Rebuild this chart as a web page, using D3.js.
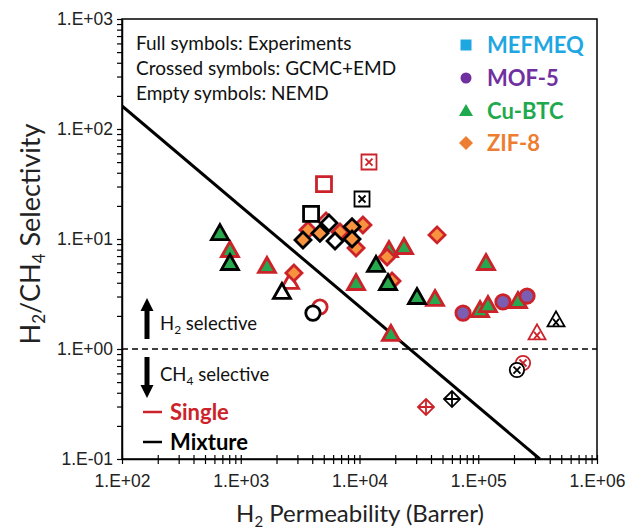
<!DOCTYPE html>
<html>
<head>
<meta charset="utf-8">
<script src="https://cdn.jsdelivr.net/npm/d3@7"></script>
<style>
  body { margin: 0; background: #fff; }
  svg { font-family: Lato, "Open Sans", sans-serif; }
</style>
</head>
<body>
<div id="chart"></div>
<script>
// axis ticks and labels
const xMajor = [1e2, 1e3, 1e4, 1e5, 1e6];
const xTickLabels = ["1.E+02", "1.E+03", "1.E+04", "1.E+05", "1.E+06"];
const yMajor = [1e-1, 1e0, 1e1, 1e2, 1e3];
const yTickLabels = ["1.E-01", "1.E+00", "1.E+01", "1.E+02", "1.E+03"];

// [H2 permeability (Barrer), H2/CH4 selectivity]
// full symbols: experiments
const cuBtcSingleExp = [[811, 7.94], [1663, 5.69], [9350, 3.98], [17700, 7.94], [23700, 8.46], [43250, 2.85],
  [18400, 1.37], [116200, 6.05], [103500, 2.26], [120700, 2.51], [216000, 2.73]];
const cuBtcMixtureExp = [[668, 11.3], [811, 6.05], [13770, 5.81], [17380, 3.98], [30480, 2.97]];
const mof5SingleExp = [[74500, 2.12], [161500, 2.68], [257600, 3.03]];
const zif8SingleExp = [[2805, 4.91], [3683, 12.1], [6855, 11.6], [10690, 13.4], [9350, 8.28], [17060, 6.86],
  [18790, 4.15], [44980, 10.9]];
const zif8MixtureExp = [[3343, 9.79], [4645, 11.3], [8650, 12.9], [8650, 10.0]];
// crossed symbols: GCMC+EMD
const mefmeqSingleEmd = [[12020, 50.1]];
const mefmeqMixtureEmd = [[10500, 23.1]];
const cuBtcSingleEmd = [[312600, 1.40]];
const cuBtcMixtureEmd = [[451800, 1.84]];
const mof5SingleEmd = [[238000, 0.746]];
const mof5MixtureEmd = [[211800, 0.644]];
const zif8SingleEmd = [[36300, 0.297]];
const zif8MixtureEmd = [[60100, 0.351]];
// empty symbols: NEMD
const mefmeqSingleNemd = [[5023, 31.6]];
const mefmeqMixtureNemd = [[3909, 16.9]];
const cuBtcSingleNemd = [[2600, 4.07]];
const cuBtcMixtureNemd = [[2223, 3.30]];
const mof5SingleNemd = [[4645, 2.41]];
const mof5MixtureNemd = [[4055, 2.12]];
const zif8SingleNemd = [[5225, 14.6]];
const zif8MixtureNemd = [[5535, 14.0], [6225, 9.59]];

// upper bound line
const boundLine = [[100, 162], [330000, 0.1]];

const materials = ["MEFMEQ", "MOF-5", "Cu-BTC", "ZIF-8"];

(() => {
  const width = 631, height = 530;
  const svg = d3.select("#chart").append("svg")
    .attr("width", width).attr("height", height);

  const x = d3.scaleLog().domain([1e2, 1e6]).range([122, 597]);
  const y = d3.scaleLog().domain([1e-1, 1e3]).range([459, 19]);

  const fillColor = {"MEFMEQ": "#1ea8e0", "MOF-5": "#7b5db2", "Cu-BTC": "#27a84f", "ZIF-8": "#f7933f"};
  const textColor = {"MEFMEQ": "#1fa7e1", "MOF-5": "#7030a0", "Cu-BTC": "#1ea94c", "ZIF-8": "#ed7d31"};
  const shape = {"MEFMEQ": "square", "MOF-5": "circle", "Cu-BTC": "triangle", "ZIF-8": "diamond"};
  const red = "#cc2229";

  const series = [
    {data: mefmeqSingleNemd, mat: "MEFMEQ", kind: "empty", mix: false},
    {data: cuBtcSingleNemd, mat: "Cu-BTC", kind: "empty", mix: false},
    {data: mof5SingleNemd, mat: "MOF-5", kind: "empty", mix: false},
    {data: zif8SingleNemd, mat: "ZIF-8", kind: "empty", mix: false},
    {data: mefmeqSingleEmd, mat: "MEFMEQ", kind: "cross", mix: false},
    {data: cuBtcSingleEmd, mat: "Cu-BTC", kind: "cross", mix: false},
    {data: mof5SingleEmd, mat: "MOF-5", kind: "cross", mix: false},
    {data: zif8SingleEmd, mat: "ZIF-8", kind: "cross", mix: false},
    {data: cuBtcSingleExp, mat: "Cu-BTC", kind: "full", mix: false},
    {data: mof5SingleExp, mat: "MOF-5", kind: "full", mix: false},
    {data: zif8SingleExp, mat: "ZIF-8", kind: "full", mix: false},
    {data: mefmeqMixtureNemd, mat: "MEFMEQ", kind: "empty", mix: true},
    {data: cuBtcMixtureNemd, mat: "Cu-BTC", kind: "empty", mix: true},
    {data: mof5MixtureNemd, mat: "MOF-5", kind: "empty", mix: true},
    {data: zif8MixtureNemd, mat: "ZIF-8", kind: "empty", mix: true},
    {data: mefmeqMixtureEmd, mat: "MEFMEQ", kind: "cross", mix: true},
    {data: cuBtcMixtureEmd, mat: "Cu-BTC", kind: "cross", mix: true},
    {data: mof5MixtureEmd, mat: "MOF-5", kind: "cross", mix: true},
    {data: zif8MixtureEmd, mat: "ZIF-8", kind: "cross", mix: true},
    {data: cuBtcMixtureExp, mat: "Cu-BTC", kind: "full", mix: true},
    {data: zif8MixtureExp, mat: "ZIF-8", kind: "full", mix: true}
  ];

  // outline paths for each shape, centred on 0,0
  const outline = (s) => {
    if (s === "square") return "M-7.5,-7.5H7.5V7.5H-7.5Z";
    if (s === "triangle") return "M0,-8.5L8.5,6.5H-8.5Z";
    if (s === "diamond") return "M0,-8L8,0L0,8L-8,0Z";
    return d3.arc()({innerRadius: 0, outerRadius: 7.2, startAngle: 0, endAngle: 2 * Math.PI});
  };
  const crossPath = (s) => {
    if (s === "diamond") return "M0,-8V8M-8,0H8";
    if (s === "triangle") return "M-3,-1L3,6M3,-1L-3,6";
    return "M-3.5,-3.5L3.5,3.5M3.5,-3.5L-3.5,3.5";
  };

  // axes
  const minor = (lo, hi) => {
    const v = [];
    for (let e = lo; e < hi; e++) for (let k = 1; k < 10; k++) v.push(k * Math.pow(10, e));
    v.push(Math.pow(10, hi));
    return v;
  };

  const yAxis = svg.append("g").attr("transform", "translate(122,0)")
    .call(d3.axisLeft(y).tickValues(minor(-1, 3)).tickSize(5).tickSizeOuter(0)
      .tickFormat(d => { const i = yMajor.findIndex(m => Math.abs(m - d) / m < 1e-6); return i >= 0 ? yTickLabels[i] : ""; }));
  yAxis.select(".domain").attr("stroke-width", 1.5);
  yAxis.selectAll(".tick line").attr("stroke-width", 1.2);
  yAxis.selectAll("text").attr("font-size", 17.5).attr("fill", "#222").attr("x", -9);

  const xAxis = svg.append("g").attr("transform", "translate(0,459)")
    .call(d3.axisBottom(x).tickValues(minor(2, 6)).tickSize(5).tickSizeOuter(0)
      .tickFormat(d => { const i = xMajor.findIndex(m => Math.abs(m - d) / m < 1e-6); return i >= 0 ? xTickLabels[i] : ""; }));
  xAxis.select(".domain").attr("stroke-width", 1.5);
  xAxis.selectAll(".tick line").attr("y1", -4).attr("stroke-width", 1.2);
  xAxis.selectAll("text").attr("font-size", 17.5).attr("fill", "#222").attr("y", 16);

  // frame
  svg.append("rect").attr("x", 122).attr("y", 19).attr("width", 475).attr("height", 440)
    .attr("fill", "none").attr("stroke", "#000").attr("stroke-width", 1.5);

  svg.append("clipPath").attr("id", "plot-clip").append("rect")
    .attr("x", 122).attr("y", 19).attr("width", 475).attr("height", 440);

  // reference lines
  svg.append("line").attr("x1", x(1e2)).attr("x2", x(1e6)).attr("y1", y(1)).attr("y2", y(1))
    .attr("stroke", "#000").attr("stroke-width", 1.5).attr("stroke-dasharray", "6,4");
  svg.append("path").attr("clip-path", "url(#plot-clip)")
    .attr("d", d3.line().x(d => x(d[0])).y(d => y(d[1]))(boundLine))
    .attr("fill", "none").attr("stroke", "#000").attr("stroke-width", 3);

  // points
  const pts = svg.append("g").attr("id", "points");
  series.forEach(s => {
    const stroke = s.mix ? "#000" : red;
    const g = pts.append("g");
    const m = g.selectAll("g").data(s.data).enter().append("g")
      .attr("transform", d => `translate(${x(d[0])},${y(d[1])})`);
    m.append("path").attr("d", outline(shape[s.mat]))
      .attr("fill", s.kind === "full" ? fillColor[s.mat] : "#fff")
      .attr("stroke", stroke)
      .attr("stroke-width", s.kind === "cross" ? 1.8 : 2.8)
      .attr("stroke-linejoin", "miter");
    if (s.kind === "cross") {
      m.append("path").attr("d", crossPath(shape[s.mat]))
        .attr("stroke", stroke).attr("stroke-width", 1.8).attr("fill", "none");
    }
  });

  // top-left notes
  const notes = ["Full symbols: Experiments", "Crossed symbols: GCMC+EMD", "Empty symbols: NEMD"];
  svg.append("g").selectAll("text").data(notes).enter().append("text")
    .attr("x", 136).attr("y", (d, i) => 50 + i * 25)
    .attr("font-size", 19).attr("fill", "#111").text(d => d);

  // material legend
  const leg = svg.append("g").attr("transform", "translate(466,0)");
  const legY = [45, 78, 111, 143];
  const legShape = {
    "MEFMEQ": "M-5.5,-5.5H5.5V5.5H-5.5Z",
    "MOF-5": d3.arc()({innerRadius: 0, outerRadius: 5.5, startAngle: 0, endAngle: 2 * Math.PI}),
    "Cu-BTC": "M0,-7L7,5H-7Z",
    "ZIF-8": "M0,-7L7,0L0,7L-7,0Z"
  };
  materials.forEach((mat, i) => {
    leg.append("path").attr("transform", `translate(0,${legY[i]})`)
      .attr("d", legShape[mat]).attr("fill", textColor[mat]);
    leg.append("text").attr("x", 21).attr("y", legY[i] + 8)
      .attr("font-size", 22).attr("font-weight", "bold").attr("fill", textColor[mat]).text(mat);
  });

  // selectivity arrows
  const arrow = (x0, yTail, yHead) => {
    const dir = yHead < yTail ? 1 : -1;
    const hh = 13;
    return `M${x0 - 2.5},${yTail}V${yHead + dir * hh}H${x0 - 6.5}L${x0},${yHead}L${x0 + 6.5},${yHead + dir * hh}H${x0 + 2.5}V${yTail}Z`;
  };
  svg.append("path").attr("d", arrow(147, 339, 298)).attr("fill", "#000");
  svg.append("path").attr("d", arrow(147, 357, 398)).attr("fill", "#000");

  const t1 = svg.append("text").attr("x", 160).attr("y", 330).attr("font-size", 18.5).attr("fill", "#111");
  t1.append("tspan").text("H");
  t1.append("tspan").attr("font-size", 12).attr("dy", 4).text("2");
  t1.append("tspan").attr("dy", -4).text(" selective");
  const t2 = svg.append("text").attr("x", 160).attr("y", 381).attr("font-size", 18.5).attr("fill", "#111");
  t2.append("tspan").text("CH");
  t2.append("tspan").attr("font-size", 12).attr("dy", 4).text("4");
  t2.append("tspan").attr("dy", -4).text(" selective");

  // single / mixture key
  const key = [{label: "Single", color: red, y: 412}, {label: "Mixture", color: "#000", y: 442}];
  key.forEach(k => {
    svg.append("line").attr("x1", 143).attr("x2", 162).attr("y1", k.y).attr("y2", k.y)
      .attr("stroke", k.color).attr("stroke-width", 2.5);
    svg.append("text").attr("x", 170).attr("y", k.y + 8).attr("font-size", 22)
      .attr("font-weight", "bold").attr("fill", k.color).text(k.label);
  });

  // axis titles
  const xt = svg.append("text").attr("x", 360).attr("y", 522).attr("text-anchor", "middle")
    .attr("font-size", 24).attr("fill", "#222");
  xt.append("tspan").text("H");
  xt.append("tspan").attr("font-size", 15).attr("dy", 5).text("2");
  xt.append("tspan").attr("dy", -5).text(" Permeability (Barrer)");

  const yt = svg.append("text").attr("transform", "translate(40,234) rotate(-90)")
    .attr("text-anchor", "middle").attr("font-size", 27).attr("fill", "#222");
  yt.append("tspan").text("H");
  yt.append("tspan").attr("font-size", 17).attr("dy", 5).text("2");
  yt.append("tspan").attr("dy", -5).text("/CH");
  yt.append("tspan").attr("font-size", 17).attr("dy", 5).text("4");
  yt.append("tspan").attr("dy", -5).text(" Selectivity");
})();
</script>
</body>
</html>
